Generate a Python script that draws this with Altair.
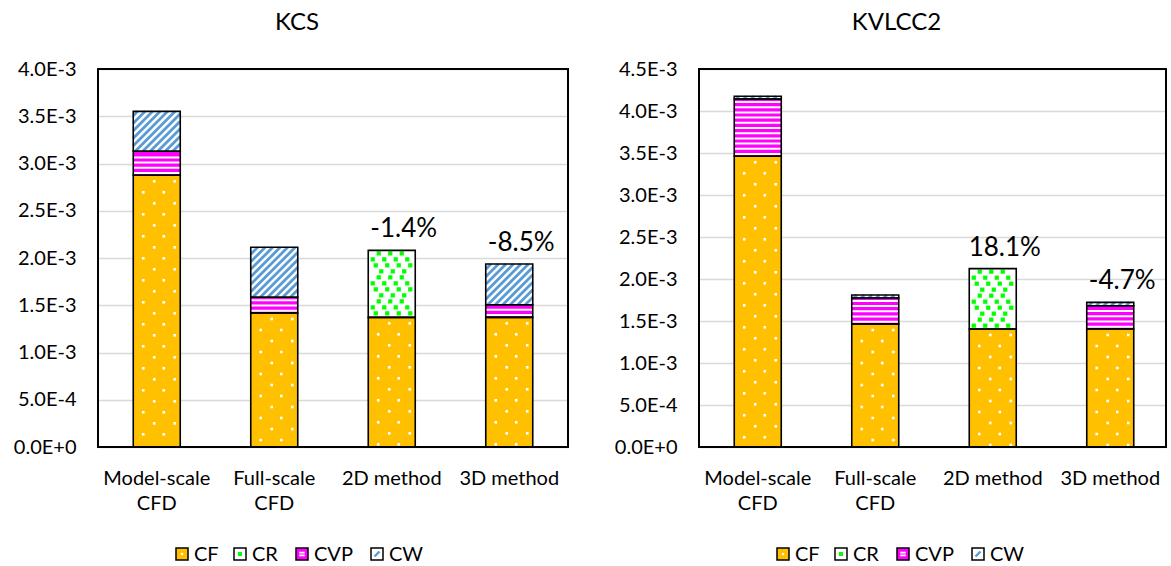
import altair as alt
import pandas as pd
import numpy as np

# ---------------- data ----------------
methods = ["Model-scale CFD", "Full-scale CFD", "2D method", "3D method"]
x_labels = [["Model-scale", "CFD"], ["Full-scale", "CFD"], ["2D method"], ["3D method"]]
components = ["CF", "CR", "CVP", "CW"]

kcs_cf = [2.875e-3, 1.418e-3, 1.372e-3, 1.372e-3]
kcs_cr = [0.0, 0.0, 0.709e-3, 0.0]
kcs_cvp = [0.254e-3, 0.166e-3, 0.0, 0.134e-3]
kcs_cw = [0.423e-3, 0.529e-3, 0.0, 0.431e-3]
kcs_pct = ["", "", "-1.4%", "-8.5%"]
kcs_ticks = [0.0, 0.5e-3, 1.0e-3, 1.5e-3, 2.0e-3, 2.5e-3, 3.0e-3, 3.5e-3, 4.0e-3]

kv_cf = [3.461e-3, 1.464e-3, 1.405e-3, 1.405e-3]
kv_cr = [0.0, 0.0, 0.718e-3, 0.0]
kv_cvp = [0.682e-3, 0.310e-3, 0.0, 0.277e-3]
kv_cw = [0.032e-3, 0.036e-3, 0.0, 0.040e-3]
kv_pct = ["", "", "18.1%", "-4.7%"]
kv_ticks = [0.0, 0.5e-3, 1.0e-3, 1.5e-3, 2.0e-3, 2.5e-3, 3.0e-3, 3.5e-3, 4.0e-3, 4.5e-3]

# ---------------- style ----------------
FONT = "Lato"
PLOT_H = 378
BAND_PX = 117.5
HALF = 0.2  # half bar width in band units
CF_COL, CR_COL, CVP_COL, CW_COL = "#FFC000", "#00FF00", "#FF00FF", "#5B9BD5"
# legend layout (pixels from the plot's left / top edge)
LEG_SWATCH_CX = [84, 142, 204, 279]
LEG_Y = PLOT_H + 107
LEG_FILL = [CF_COL, "white", CVP_COL, "white"]


def panel(title, cf, cr, cvp, cw, pct, ymax, ticks, width, xmax, title_dx):
    ppy = PLOT_H / ymax
    ppx = width / xmax
    segs = []
    for i, m in enumerate(methods):
        pos = i + 0.5
        base = 0.0
        for comp, vals in zip(components, [cf, cr, cvp, cw]):
            v = vals[i]
            if v > 0:
                segs.append(dict(method=m, comp=comp, pos=pos, xl=pos - HALF, xr=pos + HALF,
                                 y0=base, y1=base + v))
                base += v
    seg = pd.DataFrame(segs)

    # pattern geometry derived from the segments
    W = 2 * HALF * ppx
    cf_dots, cr_dots, cvp_lines, cw_lines = [], [], [], []
    for s in segs:
        Hpx = (s["y1"] - s["y0"]) * ppy
        if s["comp"] == "CF":
            k = 0
            yy = 6.0
            while yy < Hpx - 2:
                phase = -2.5 if k % 2 == 0 else -13.5
                for off in np.arange(phase - 41, 30, 20.5):
                    if abs(off) <= 21.0:
                        cf_dots.append(dict(x=s["pos"] + off / ppx, y=s["y1"] - yy / ppy))
                yy += 11
                k += 1
        elif s["comp"] == "CR":
            k = 0
            yy = 3.0
            while yy < Hpx - 2:
                phase = [0.0, -6.0, -3.0, -9.0][k % 4]
                for off in np.arange(phase - 36, 30, 11.5):
                    if abs(off) <= 21.0:
                        cr_dots.append(dict(x=s["pos"] + off / ppx, y=s["y1"] - yy / ppy))
                yy += 6
                k += 1
        elif s["comp"] == "CVP":
            yy = 2.3
            while yy < Hpx - 1:
                cvp_lines.append(dict(x=s["xl"], x2=s["xr"], y=s["y0"] + yy / ppy))
                yy += 5.2
        elif s["comp"] == "CW":
            c = -W
            while c < Hpx:
                us = max(0.0, -c)
                ue = min(W, Hpx - c)
                if ue > us:
                    cw_lines.append(dict(x=s["xl"] + us / ppx, x2=s["xl"] + ue / ppx,
                                         y=s["y0"] + (us + c) / ppy, y2=s["y0"] + (ue + c) / ppy))
                c += 7.5
    cf_df = pd.DataFrame(cf_dots)
    cr_df = pd.DataFrame(cr_dots)
    cvp_df = pd.DataFrame(cvp_lines)
    cw_df = pd.DataFrame(cw_lines)

    tot = [cf[i] + cr[i] + cvp[i] + cw[i] for i in range(4)]
    lab_df = pd.DataFrame(dict(pos=[i + 0.5 for i in range(4)], top=tot, label=pct))
    lab_df = lab_df[lab_df["label"] != ""]
    cat_df = pd.DataFrame(dict(pos=[i + 0.5 for i in range(4)],
                               name=["|".join(l) for l in x_labels]))
    leg_df = pd.DataFrame(dict(comp=components, cx=LEG_SWATCH_CX, fill=LEG_FILL,
                               tx=[c + 12 for c in LEG_SWATCH_CX]))

    xs = alt.Scale(domain=[0, xmax], nice=False, zero=False)
    ys = alt.Scale(domain=[0, ymax], nice=False)
    X = lambda f: alt.X(f, scale=xs, title=None)
    Y = lambda f: alt.Y(f, scale=ys, title=None)

    base = alt.Chart(seg).mark_rect(strokeWidth=0).encode(
        x=alt.X("xl:Q", scale=xs, title=None,
                axis=alt.Axis(values=[0.5, 1.5, 2.5, 3.5], labels=False, grid=False,
                              ticks=False, domain=False)),
        x2="xr:Q",
        y=alt.Y("y0:Q", scale=ys, title=None,
                axis=alt.Axis(values=ticks, labelExpr="upper(format(datum.value, '.1e'))",
                              ticks=False, domain=False, labelPadding=22,
                              gridColor="#D9D9D9", gridWidth=1.5)),
        y2="y1:Q",
        fill=alt.Fill("comp:N", scale=alt.Scale(domain=components,
                                                range=[CF_COL, "white", CVP_COL, "white"]),
                      legend=None),
    )
    cf_layer = alt.Chart(cf_df).mark_point(shape="square", filled=True, color="white",
                                           size=7, opacity=1).encode(x=X("x:Q"), y=Y("y:Q"))
    cr_layer = alt.Chart(cr_df).mark_point(shape="square", filled=True, color=CR_COL,
                                           size=18, opacity=1).encode(x=X("x:Q"), y=Y("y:Q"))
    cvp_layer = alt.Chart(cvp_df).mark_rule(color="white", strokeWidth=2).encode(
        x=X("x:Q"), x2="x2:Q", y=Y("y:Q"))
    cw_layer = alt.Chart(cw_df).mark_rule(color=CW_COL, strokeWidth=2.8).encode(
        x=X("x:Q"), x2="x2:Q", y=Y("y:Q"), y2="y2:Q")
    outline = alt.Chart(seg).mark_rect(fillOpacity=0, stroke="black", strokeWidth=1.6).encode(
        x=X("xl:Q"), x2="xr:Q", y=Y("y0:Q"), y2="y1:Q")
    border = alt.Chart(cat_df).mark_rect(fillOpacity=0, stroke="black", strokeWidth=1.6).encode(
        x=alt.value(0), x2=alt.value(width), y=alt.value(0), y2=alt.value(PLOT_H))

    # legend drawn as marks (swatch with a small pattern hint + label)
    lx = alt.X("cx:Q", scale=None)
    leg_sw = alt.Chart(leg_df).mark_point(shape="square", filled=True, size=144, opacity=1,
                                          stroke="black", strokeWidth=1.5).encode(
        x=lx, y=alt.value(LEG_Y), fill=alt.Fill("fill:N", scale=None))
    leg_cf = alt.Chart(leg_df).transform_filter("datum.comp == 'CF'").mark_point(
        shape="square", filled=True, color="white", size=5, opacity=1).encode(
        x=lx, y=alt.value(LEG_Y))
    leg_cr = alt.Chart(leg_df).transform_filter("datum.comp == 'CR'").mark_point(
        shape="square", filled=True, color=CR_COL, size=16, opacity=1).encode(
        x=lx, y=alt.value(LEG_Y))
    leg_cvp = alt.Chart(leg_df).transform_filter("datum.comp == 'CVP'").mark_point(
        shape="M-1,-0.5H1M-1,0.5H1", filled=False, color="white", strokeWidth=1.6, size=30,
        opacity=1).encode(x=lx, y=alt.value(LEG_Y))
    leg_cw = alt.Chart(leg_df).transform_filter("datum.comp == 'CW'").mark_point(
        shape="M-1,1L1,-1", filled=False, color=CW_COL, strokeWidth=2.4, size=25,
        opacity=1).encode(x=lx, y=alt.value(LEG_Y))
    leg_tx = alt.Chart(leg_df).mark_text(font=FONT, fontSize=20, align="left",
                                         baseline="middle", color="black").encode(
        x=alt.X("tx:Q", scale=None), y=alt.value(LEG_Y + 1), text="comp:N")

    text_layer = alt.Chart(lab_df).mark_text(font=FONT, fontSize=26, dx=12, dy=-13,
                                             baseline="alphabetic", color="black").encode(
        x=X("pos:Q"), y=Y("top:Q"), text="label:N")
    cat_layer = alt.Chart(cat_df).mark_text(font=FONT, fontSize=20, baseline="top",
                                            lineBreak="|", lineHeight=25, color="black").encode(
        x=X("pos:Q"), y=alt.value(PLOT_H + 22), text="name:N")

    return alt.layer(base, cf_layer, cr_layer, cvp_layer, cw_layer, outline, border,
                     text_layer, cat_layer, leg_sw, leg_cf, leg_cr, leg_cvp, leg_cw,
                     leg_tx).properties(
        width=width, height=PLOT_H,
        title=alt.TitleParams(title, font=FONT, fontSize=24, fontWeight="normal",
                              anchor="middle", frame="group", dx=title_dx, offset=24,
                              color="black"))


left = panel("KCS", kcs_cf, kcs_cr, kcs_cvp, kcs_cw, kcs_pct, 4.0e-3, kcs_ticks, 470, 4.0, -36)
right = panel("KVLCC2", kv_cf, kv_cr, kv_cvp, kv_cw, kv_pct, 4.5e-3, kv_ticks, 467,
              467 / BAND_PX, -36)

chart = alt.hconcat(left, right, spacing=45).resolve_scale(fill="independent").properties(
    padding={"left": 13, "top": 11, "right": 0, "bottom": 0}).configure(
    background="white").configure_view(strokeWidth=0).configure_axis(
    labelFont=FONT, labelFontSize=20, labelColor="black")

chart.save("out.html", embed_options={"renderer": "svg", "actions": False})
